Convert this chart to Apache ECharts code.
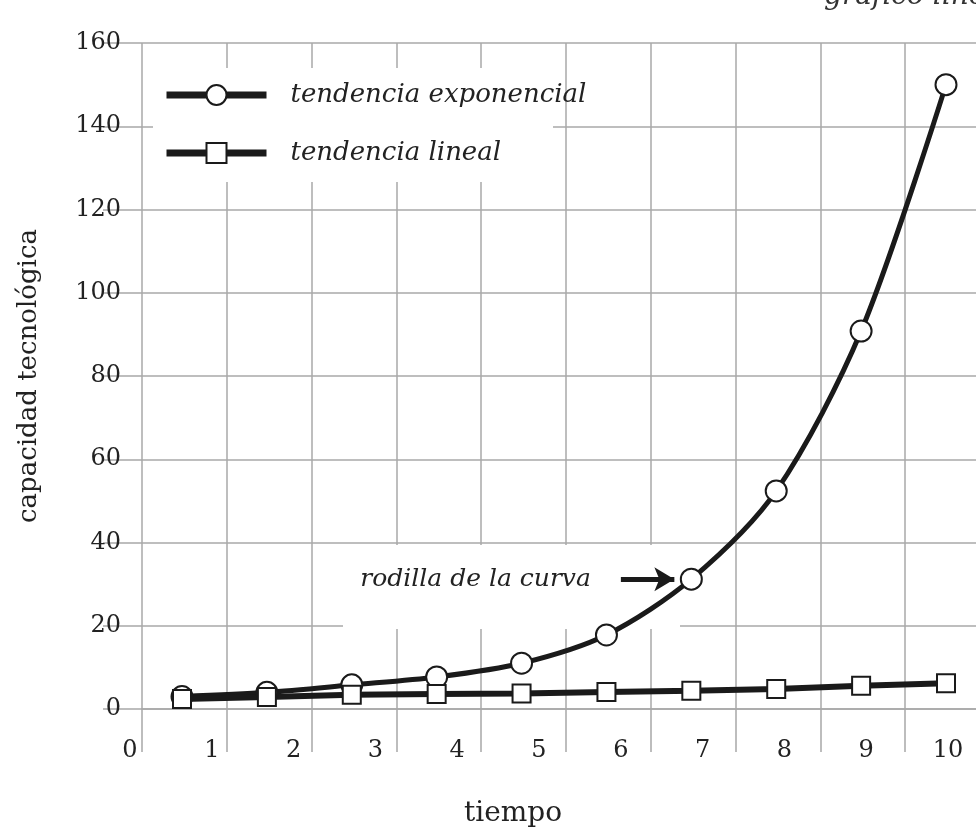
<!doctype html>
<html lang="es">
<head>
<meta charset="utf-8">
<title>tendencia exponencial / tendencia lineal</title>
<script src="https://cdn.jsdelivr.net/npm/echarts@6/dist/echarts.min.js"></script>
<style>html,body{margin:0;background:#fff}</style>
</head>
<body>
<div id="main" style="width:976px;height:828px;"></div>
<script>
// valores
var tiempo = [1, 2, 3, 4, 5, 6, 7, 8, 9, 10];
var exponencial = [3, 4, 5.8, 7.7, 11, 17.8, 31.2, 52.4, 90.8, 150];
var lineal = [2.4, 2.9, 3.4, 3.6, 3.7, 4.1, 4.4, 4.8, 5.6, 6.2];
var etiquetasX = [0, 1, 2, 3, 4, 5, 6, 7, 8, 9, 10];
var etiquetasY = [0, 20, 40, 60, 80, 100, 120, 140, 160];

var serif = "'DejaVu Serif', 'Liberation Serif', serif";
var tinta = '#1a1a1a';
var gris = '#a8a8a8';

function puntos(vals) {
    return tiempo.map(function (t, i) { return [t, vals[i]]; });
}

var myChart = echarts.init(document.getElementById('main'));

var option = {
    animation: false,
    backgroundColor: '#fff',
    title: {
        text: 'gráfico lineal',
        left: 824, top: -17, padding: 0,
        textStyle: { fontFamily: serif, fontStyle: 'italic', fontWeight: 'normal', fontSize: 28, color: '#333' }
    },
    // 0: cuadrícula, 1: etiquetas del eje x, 2: datos
    grid: [
        { left: 142, right: -14, top: 43, bottom: 119, outerBoundsMode: 'none' },
        { left: 130, right: 28, top: 43, bottom: 119, outerBoundsMode: 'none' },
        { left: 182, right: 30, top: 43, bottom: 119, outerBoundsMode: 'none' }
    ],
    xAxis: [
        {
            gridIndex: 0, type: 'value', min: 0, max: 10, interval: 1,
            axisLine: { show: true, lineStyle: { color: gris, width: 1.5 } },
            axisTick: { show: true, inside: false, length: 43, lineStyle: { color: gris, width: 1.5 } },
            axisLabel: { show: false },
            splitLine: { show: true, lineStyle: { color: gris, width: 1.5 } },
            name: 'tiempo', nameLocation: 'middle', nameGap: 91, nameMoveOverlap: false,
            nameTextStyle: { fontFamily: serif, fontSize: 28, color: '#222', verticalAlign: 'top', padding: [0, 106, 0, 0] }
        },
        {
            gridIndex: 1, type: 'value', min: 0, max: 10, interval: 1,
            axisLine: { show: false }, axisTick: { show: false }, splitLine: { show: false },
            axisLabel: {
                margin: 30, fontFamily: serif, fontSize: 24, color: '#222',
                formatter: function (v) { return etiquetasX.indexOf(v) >= 0 ? String(v) : ''; }
            }
        },
        { gridIndex: 2, type: 'value', min: 1, max: 10, show: false }
    ],
    yAxis: [
        {
            gridIndex: 0, type: 'value', min: 0, max: 160, interval: 20,
            axisLine: { show: false },
            axisTick: { show: true, inside: false, length: 39, lineStyle: { color: gris, width: 1.5 } },
            axisLabel: {
                margin: 21, fontFamily: serif, fontSize: 24, color: '#222',
                verticalAlign: 'middle', padding: [0, 0, 28, 0],
                formatter: function (v) { return etiquetasY.indexOf(v) >= 0 ? String(v) : ''; }
            },
            splitLine: { show: true, lineStyle: { color: gris, width: 1.5 } },
            name: 'capacidad tecnológica', nameLocation: 'middle', nameGap: 100, nameMoveOverlap: false,
            nameTextStyle: { fontFamily: serif, fontSize: 26, color: '#222' }
        },
        { gridIndex: 1, type: 'value', min: 0, max: 160, show: false },
        { gridIndex: 2, type: 'value', min: 0, max: 160, show: false }
    ],
    legend: {
        orient: 'vertical', left: 153, top: 70,
        padding: [12, 10, 10, 10],
        itemWidth: 100, itemHeight: 25, itemGap: 32,
        data: ['tendencia exponencial', 'tendencia lineal'],
        lineStyle: { color: tinta, width: 7 },
        itemStyle: { color: '#fff', borderColor: tinta, borderWidth: 2 },
        textStyle: { fontFamily: serif, fontStyle: 'italic', fontSize: 26, color: '#222', lineHeight: 25, padding: [0, 0, 0, 19] }
    },
    // huecos blancos de la cuadrícula detrás de la leyenda y de la nota
    graphic: [
        { type: 'rect', z: 1, shape: { x: 153, y: 68, width: 400, height: 114 }, style: { fill: '#fff' } },
        { type: 'rect', z: 1, shape: { x: 343, y: 545, width: 337, height: 84 }, style: { fill: '#fff' } }
    ],
    series: [
        {
            name: 'tendencia exponencial', type: 'line',
            xAxisIndex: 2, yAxisIndex: 2,
            data: puntos(exponencial),
            smooth: 0.3,
            symbol: 'circle', symbolSize: 21,
            lineStyle: { color: tinta, width: 5 },
            itemStyle: { color: '#fff', borderColor: tinta, borderWidth: 2 },
            markLine: {
                silent: true,
                symbol: ['none', 'arrow'], symbolSize: [18, 20],
                lineStyle: { color: tinta, width: 5, type: 'solid' },
                label: {
                    show: true, position: 'start', distance: 30,
                    formatter: 'rodilla de la curva',
                    fontFamily: serif, fontStyle: 'italic', fontSize: 25, color: '#222'
                },
                data: [[{ coord: [6.17, 31.2] }, { coord: [6.8, 31.2] }]]
            }
        },
        {
            name: 'tendencia lineal', type: 'line',
            xAxisIndex: 2, yAxisIndex: 2,
            data: puntos(lineal),
            symbol: 'rect', symbolSize: 18,
            lineStyle: { color: tinta, width: 6 },
            itemStyle: { color: '#fff', borderColor: tinta, borderWidth: 2 }
        }
    ]
};

myChart.setOption(option);
</script>
</body>
</html>
